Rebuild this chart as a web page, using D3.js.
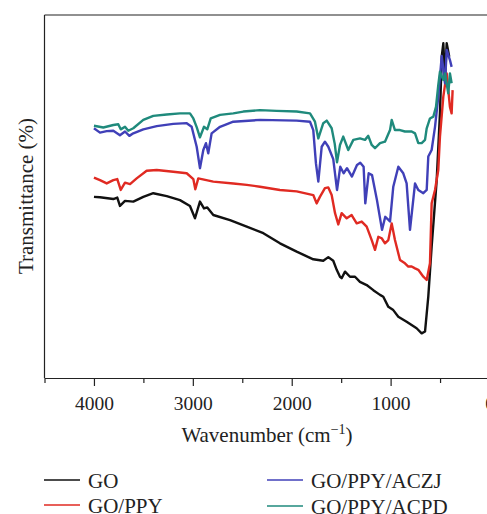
<!DOCTYPE html>
<html>
<head>
<meta charset="utf-8">
<script src="https://cdn.jsdelivr.net/npm/d3@7"></script>
<style>
    body { margin: 0; background: #fff; }
    svg { display: block; font-family: "Liberation Serif", "DejaVu Serif", serif; }
    .axis path, .axis line { stroke: #222; stroke-width: 1.2; }
    .axis text { font-family: "Liberation Serif", serif; font-size: 19.5px; fill: #222; }
    .spectrum { fill: none; stroke-width: 2.4; stroke-linejoin: round; }
    .label { font-size: 21px; fill: #222; }
</style>
</head>
<body>
<svg id="ftir-svg" width="487" height="514"></svg>
<script>
// spectra: wavenumber (cm-1) and transmittance (arbitrary %)
const goWn = [4000,3939,3804,3764,3737,3686,3602,3501,3400,3264,3130,3029,2978,2928,2887,2854,2793,2624,2455,2287,2119,1950,1782,1681,1630,1580,1545,1512,1495,1461,1411,1360,1310,1242,1175,1107,1074,1023,973,922,838,737,686,652,619,585,534,501,483,467,450,433,407];
const goT = [49.9,49.8,49.3,49.7,47.4,48.8,48.6,49.9,50.9,50.1,49.0,47.4,44.0,48.6,46.7,47.0,44.9,43.5,41.7,39.9,37.1,34.8,32.7,32.3,33.3,32.3,29.8,27.9,27.5,29.3,27.9,27.9,26.5,25.6,24.2,22.9,22.4,19.6,18.7,16.9,15.5,13.7,12.3,12.8,22.4,36.2,54.5,72.9,88.5,92.2,82.1,92.2,88.5];

const ppyWn = [4000,3939,3871,3804,3764,3729,3686,3635,3568,3467,3365,3198,3062,2995,2975,2945,2793,2591,2455,2321,2119,1950,1782,1748,1715,1664,1630,1596,1562,1529,1495,1444,1394,1343,1292,1242,1191,1158,1124,1090,1057,1023,989,956,905,855,821,787,753,720,669,635,602,585,551,518,501,467,433,400,383,373];
const ppyT = [55.2,54.5,53.6,54.5,54.8,51.8,53.8,53.4,55.0,57.1,57.3,56.8,56.4,54.8,52.0,55.0,54.1,53.6,53.2,52.7,51.8,51.4,50.4,48.1,49.9,52.3,52.5,50.4,45.4,42.3,45.4,44.0,44.9,42.6,43.1,41.7,38.0,35.3,38.9,38.5,37.1,38.0,42.6,38.0,32.5,31.6,30.7,30.7,30.2,29.8,27.9,27.0,31.6,48.1,51.8,57.3,66.5,77.5,83.9,74.7,72.9,79.3];

const aczjWn = [4000,3939,3871,3804,3737,3686,3642,3602,3501,3365,3198,3062,3012,2961,2928,2894,2867,2844,2810,2725,2591,2321,1950,1815,1782,1755,1731,1697,1664,1630,1580,1542,1509,1475,1441,1391,1340,1307,1273,1256,1222,1188,1138,1087,1054,1019,1006,973,922,872,838,804,753,720,669,635,619,585,551,518,483,450,433,400,383];
const aczjT = [68.8,67.6,68.0,68.1,66.9,67.9,66.7,67.4,68.5,69.4,70.0,70.2,69.2,63.7,57.8,62.8,64.7,61.9,67.4,69.2,70.6,71.1,70.9,70.6,68.3,59.1,54.1,63.7,65.1,63.7,60.3,51.8,58.2,56.4,57.8,55.5,58.7,59.3,58.2,48.1,56.4,55.9,49.0,40.8,44.4,43.5,43.1,52.7,58.2,56.4,53.6,40.8,53.6,51.8,50.9,51.8,61.0,62.8,69.2,77.5,88.7,81.2,90.4,87.6,85.7];

const acpdWn = [4000,3905,3804,3754,3729,3686,3653,3602,3501,3400,3264,3130,3029,2995,2961,2928,2887,2854,2819,2725,2591,2490,2321,2152,1950,1815,1765,1731,1681,1646,1596,1565,1542,1512,1479,1428,1377,1310,1259,1226,1191,1158,1107,1057,1006,989,956,905,855,787,753,720,686,652,635,602,568,541,518,501,467,450,417,400,383];
const acpdT = [69.5,69.0,69.7,69.9,68.5,69.2,68.1,68.8,71.1,72.2,72.6,72.9,72.9,71.5,69.1,66.3,69.2,68.5,71.5,72.5,72.9,73.4,73.8,73.6,73.4,72.9,70.6,66.0,70.2,70.9,68.8,64.5,59.4,64.2,66.5,62.8,65.6,66.0,65.6,66.7,64.2,63.3,64.7,65.1,68.3,71.1,68.3,68.3,67.9,67.9,67.4,64.7,64.7,65.6,68.8,71.5,72.0,74.7,80.7,84.4,82.1,83.9,78.4,83.9,81.2];

const seriesNames = ["GO", "GO/PPY", "GO/PPY/ACZJ", "GO/PPY/ACPD"];
const seriesColors = ["#111111", "#e02a22", "#4040b8", "#1f8a7c"];
const majorTicks = [4000, 3000, 2000, 1000, 0];
const minorTicks = [4500, 3500, 2500, 1500, 500];

let svg = d3.select("#ftir-svg");

let x = d3.scaleLinear()
    .domain([4500, 0])
    .range([44.5, 489.5]);
let y = d3.scaleLinear()
    .domain([0, 100])
    .range([378, 15]);

let spectra = [
    {name: seriesNames[0], color: seriesColors[0], values: d3.zip(goWn, goT)},
    {name: seriesNames[1], color: seriesColors[1], values: d3.zip(ppyWn, ppyT)},
    {name: seriesNames[2], color: seriesColors[2], values: d3.zip(aczjWn, aczjT)},
    {name: seriesNames[3], color: seriesColors[3], values: d3.zip(acpdWn, acpdT)}
];

let line = d3.line()
    .x(d => x(d[0]))
    .y(d => y(d[1]));

// frame: left and top edges only (figure is cropped on the right)
svg.append("line")
    .attr("x1", 44.5).attr("x2", 44.5)
    .attr("y1", 15).attr("y2", 378)
    .attr("stroke", "#222").attr("stroke-width", 1.2);
svg.append("line")
    .attr("x1", 44.5).attr("x2", 487)
    .attr("y1", 15).attr("y2", 15)
    .attr("stroke", "#222").attr("stroke-width", 1.2);

svg.append("g")
    .attr("class", "axis")
    .attr("transform", "translate(0,378)")
    .call(d3.axisBottom(x).tickValues(minorTicks).tickSize(5).tickSizeOuter(0).tickFormat(""));
svg.append("g")
    .attr("class", "axis")
    .attr("transform", "translate(0,378)")
    .call(d3.axisBottom(x).tickValues(majorTicks).tickSize(8).tickSizeOuter(0).tickPadding(10).tickFormat(d3.format("d")));

svg.append("g")
    .selectAll("path")
    .data(spectra)
    .enter().append("path")
    .attr("class", "spectrum")
    .attr("stroke", d => d.color)
    .attr("d", d => line(d.values));

// axis titles
let xt = svg.append("text")
    .attr("class", "label")
    .attr("x", 267)
    .attr("y", 441.5)
    .attr("text-anchor", "middle");
xt.append("tspan").text("Wavenumber (cm");
xt.append("tspan").attr("font-size", "14px").attr("dy", -8).text("\u22121");
xt.append("tspan").attr("dy", 8).text(")");

svg.append("text")
    .attr("class", "label")
    .attr("transform", "translate(32.5,196) rotate(-90)")
    .attr("text-anchor", "middle")
    .text("Transmittance (%)");

// legend, two columns
let legendPos = [[44, 480], [44, 505], [267, 480], [267, 506]];
let legend = svg.append("g")
    .selectAll("g")
    .data(spectra)
    .enter().append("g")
    .attr("transform", (d, i) => "translate(" + legendPos[i][0] + "," + legendPos[i][1] + ")");
legend.append("line")
    .attr("x1", 0).attr("x2", 36)
    .attr("stroke", d => d.color)
    .attr("stroke-width", 1.3);
legend.append("text")
    .attr("class", "label")
    .attr("x", 44)
    .attr("y", 7.5)
    .text(d => d.name);
</script>
</body>
</html>
